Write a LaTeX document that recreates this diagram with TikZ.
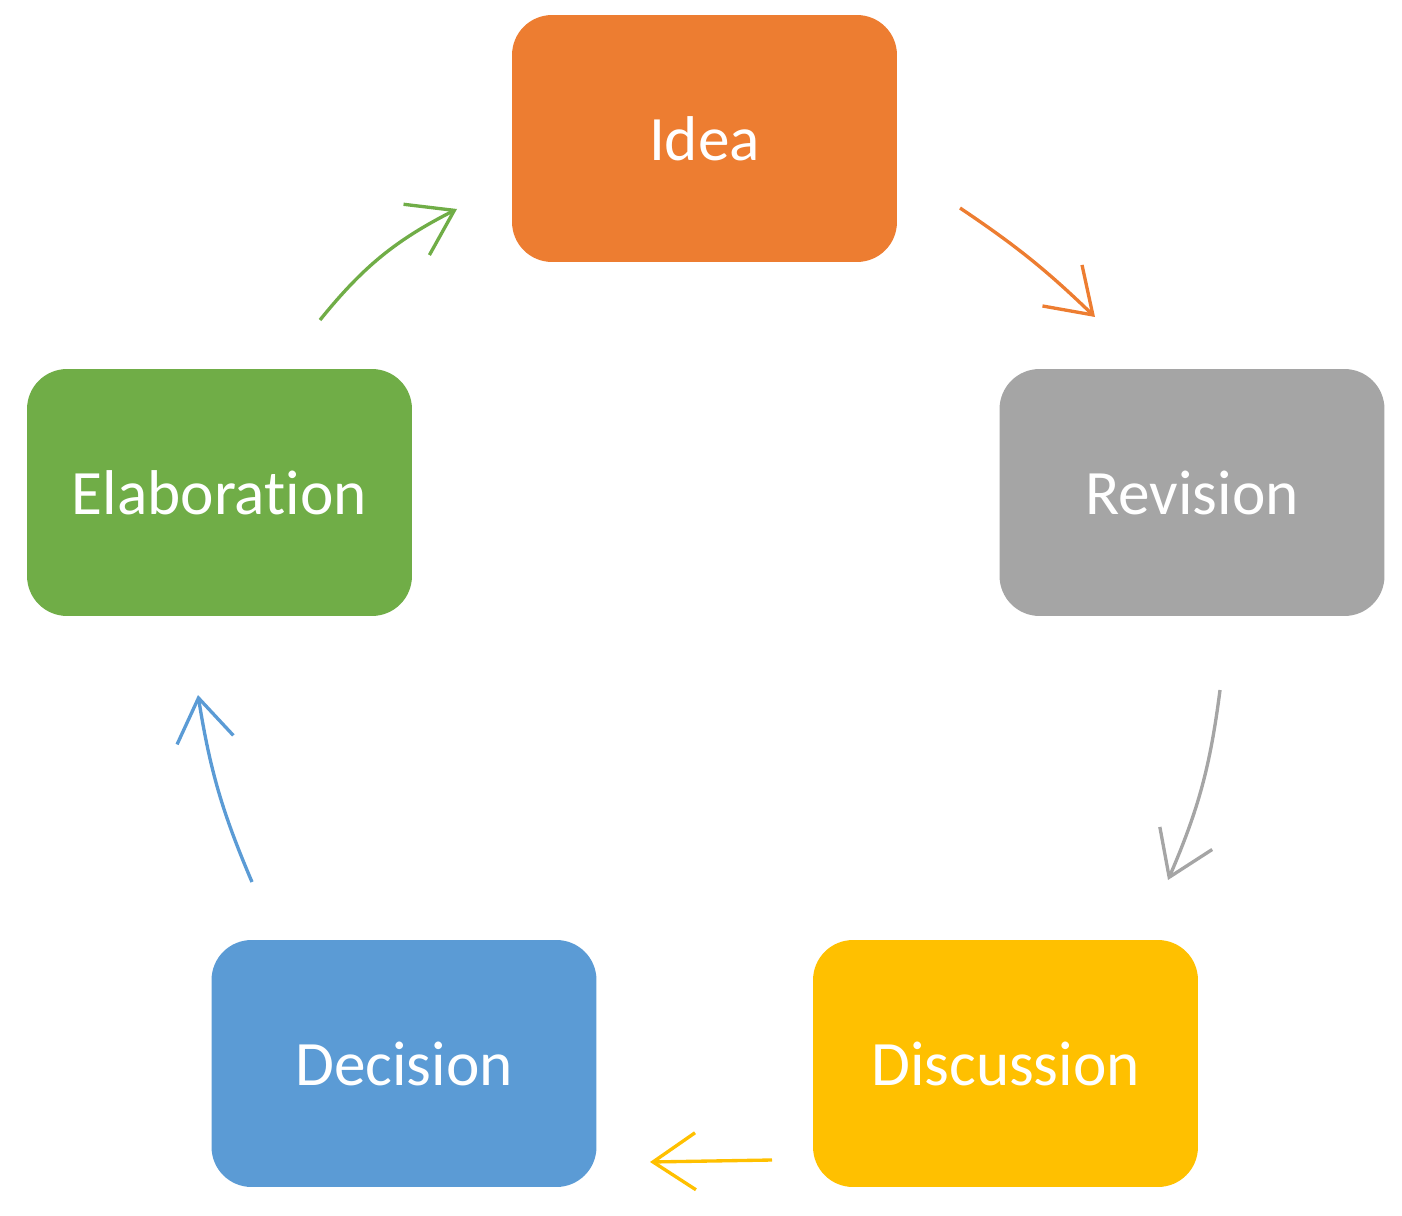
\documentclass[tikz,border=0pt]{standalone}
\usepackage{fontspec}
\setmainfont{Carlito}[Ligatures=NoCommon]
\usetikzlibrary{arrows.meta, positioning}

\definecolor{ideaorange}{HTML}{ED7D31}
\definecolor{revgray}{HTML}{A5A5A5}
\definecolor{discyellow}{HTML}{FFC000}
\definecolor{decblue}{HTML}{5B9BD5}
\definecolor{elabgreen}{HTML}{70AD47}

\begin{document}
\begin{tikzpicture}[
    x=0.02cm, y=-0.02cm,
    stage/.style={rectangle, rounded corners=0.8cm, minimum width=7.7cm, minimum height=4.94cm,
        text=white, font=\fontsize{36}{40}\selectfont},
    arrow/.style={-{Straight Barb[length=0.85cm, width=1.14cm]}, line width=1.9pt, bend left=#1},
    arrow/.default=10
    ]
    \useasboundingbox (0,0) rectangle (1402,1216);

    % The five stages of the cycle
    \node[stage, fill=ideaorange] (idea) at (704.5,138.5) {Idea};
    \node[stage, fill=revgray] (rev) at (1192,492.5) {Revision};
    \node[stage, fill=discyellow] (disc) at (1005.5,1063.5) {Discussion};
    \node[stage, fill=decblue] (dec) at (404,1063.5) {Decision};
    \node[stage, fill=elabgreen] (elab) at (219.5,492.5) {Elaboration};

    % Arrow ends between the stages
    \coordinate (idea-out) at (960,208);
    \coordinate (rev-in) at (1095,317);
    \coordinate (rev-out) at (1220,690);
    \coordinate (disc-in) at (1168,880);
    \coordinate (disc-out) at (772,1160);
    \coordinate (dec-in) at (650,1162);
    \coordinate (dec-out) at (252,882);
    \coordinate (elab-in) at (198,695);
    \coordinate (elab-out) at (320,320);
    \coordinate (idea-in) at (457,209);

    % Connect the stages
    \draw[arrow=5, ideaorange] (idea-out) to (rev-in);
    \draw[arrow=8, revgray] (rev-out) to (disc-in);
    \draw[arrow=0, discyellow] (disc-out) to (dec-in);
    \draw[arrow=7, decblue] (dec-out) to (elab-in);
    \draw[arrow=12, elabgreen] (elab-out) to (idea-in);

\end{tikzpicture}
\end{document}
